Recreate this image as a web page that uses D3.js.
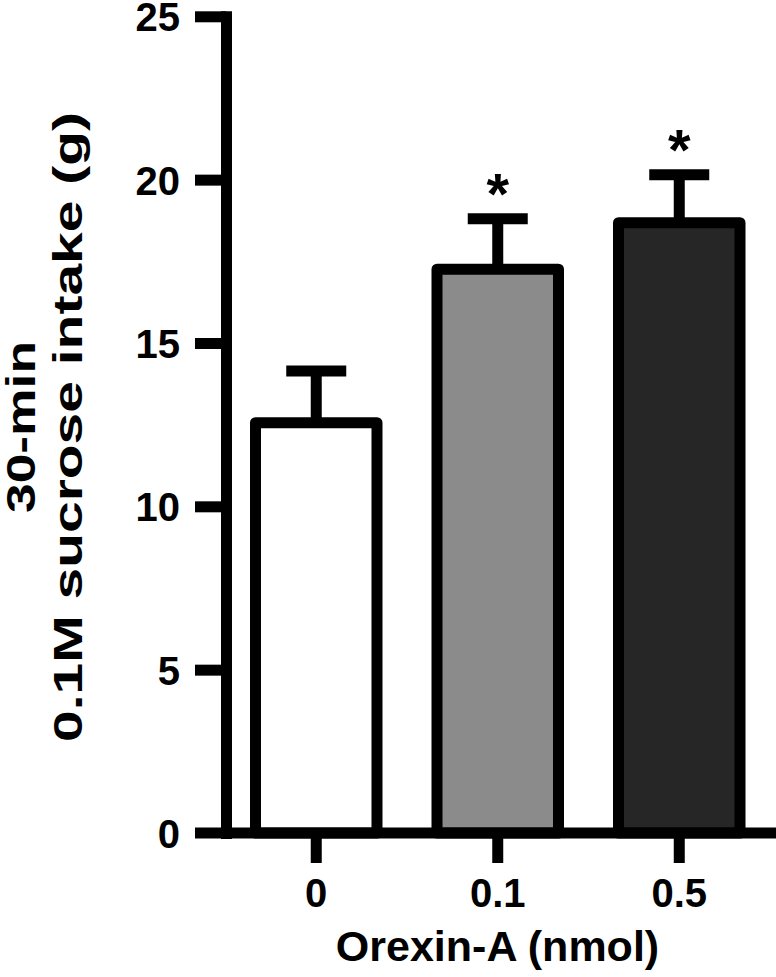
<!DOCTYPE html>
<html>
<head>
<meta charset="utf-8">
<script src="https://cdn.jsdelivr.net/npm/d3@7"></script>
<style>
  html, body { margin: 0; padding: 0; background: #fff; }
  svg { display: block; font-family: "Liberation Sans", Arial, Helvetica, sans-serif; font-weight: bold; }
</style>
</head>
<body>
<svg id="chart" width="776" height="977"></svg>
<script>
// values
const doses = ["0", "0.1", "0.5"];
const intake = [12.56, 17.26, 18.68];
const sem = [1.58, 1.54, 1.47];
const barColors = ["#ffffff", "#8b8b8b", "#262626"];
const marks = ["", "*", "*"];
const yTicks = [0, 5, 10, 15, 20, 25];

const svg = d3.select("#chart");
const lineW = 11;

const y = d3.scaleLinear().domain([0, 25]).range([833, 16.3]);
const x = d3.scaleBand()
  .domain(doses)
  .range([226, 769.5])
  .paddingInner(0.3306)
  .paddingOuter(0.1625);

// y axis
const yAxis = svg.append("g")
  .attr("transform", "translate(226,0)")
  .call(d3.axisLeft(y).tickValues(yTicks).tickSize(31).tickSizeOuter(0).tickPadding(15));
yAxis.select(".domain")
  .attr("stroke", "#000")
  .attr("stroke-width", lineW)
  .attr("stroke-linecap", "square");
yAxis.selectAll(".tick line").attr("stroke", "#000").attr("stroke-width", lineW);
yAxis.selectAll(".tick text")
  .attr("fill", "#000")
  .attr("font-size", 40)
  .attr("font-family", null)
  .attr("dy", "0.36em");
yAxis.selectAll(".tick").filter((d) => d === 0).select("line").remove();

// bars
svg.append("g")
  .selectAll("rect")
  .data(doses)
  .join("rect")
  .attr("x", (d) => x(d))
  .attr("width", x.bandwidth())
  .attr("y", (d, i) => y(intake[i]))
  .attr("height", (d, i) => y(0) - y(intake[i]))
  .attr("fill", (d, i) => barColors[i])
  .attr("stroke", "#000")
  .attr("stroke-width", lineW)
  .attr("stroke-linejoin", "round");

// error bars (upper only)
const err = svg.append("g").attr("stroke", "#000").attr("stroke-width", lineW);
doses.forEach((d, i) => {
  const cx = x(d) + x.bandwidth() / 2;
  err.append("line")
    .attr("x1", cx).attr("x2", cx)
    .attr("y1", y(intake[i])).attr("y2", y(intake[i] + sem[i]));
  err.append("line")
    .attr("x1", cx - 30).attr("x2", cx + 30)
    .attr("y1", y(intake[i] + sem[i])).attr("y2", y(intake[i] + sem[i]));
});

// significance marks
svg.append("g")
  .selectAll("text")
  .data(doses)
  .join("text")
  .attr("x", (d) => x(d) + x.bandwidth() / 2)
  .attr("y", (d, i) => y(intake[i] + sem[i]) - 5)
  .attr("text-anchor", "middle")
  .attr("font-size", 58)
  .text((d, i) => marks[i]);

// x axis
const xAxis = svg.append("g")
  .attr("transform", "translate(0,833)")
  .call(d3.axisBottom(x).tickSize(30).tickSizeOuter(0).tickPadding(16));
xAxis.select(".domain").remove();
xAxis.append("line")
  .attr("x1", 195).attr("x2", 776)
  .attr("stroke", "#000")
  .attr("stroke-width", lineW);
xAxis.selectAll(".tick line").attr("stroke", "#000").attr("stroke-width", lineW);
xAxis.selectAll(".tick text")
  .attr("fill", "#000")
  .attr("font-size", 40)
  .attr("font-family", null);

// axis titles
svg.append("text")
  .attr("x", 497.5)
  .attr("y", 961)
  .attr("text-anchor", "middle")
  .attr("font-size", 43)
  .text("Orexin-A (nmol)");

const yTitle = svg.append("text")
  .attr("transform", "rotate(-90)")
  .attr("text-anchor", "middle")
  .attr("font-size", 40);
yTitle.append("tspan").attr("x", -427).attr("y", 35)
  .attr("textLength", 172).attr("lengthAdjust", "spacingAndGlyphs")
  .text("30-min");
yTitle.append("tspan").attr("x", -427).attr("y", 82)
  .attr("textLength", 630).attr("lengthAdjust", "spacingAndGlyphs")
  .text("0.1M sucrose intake (g)");
</script>
</body>
</html>
